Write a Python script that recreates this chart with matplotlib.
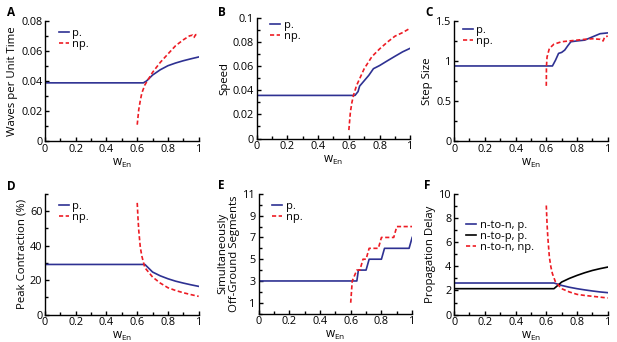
import numpy as np
import matplotlib.pyplot as plt
from matplotlib.ticker import MultipleLocator

plt.rcParams['font.family'] = ['Open Sans', 'DejaVu Sans']
plt.rcParams['font.size'] = 7.5

BLUE = '#2e3192'
RED = '#ed1c24'

# A - waves per unit time
a_w_p = [0, 0.64, 0.66, 0.70, 0.75, 0.80, 0.85, 0.90, 0.95, 1.0]
a_p = [0.0388, 0.0388, 0.0400, 0.0440, 0.0475, 0.0502, 0.0520, 0.0535, 0.0548, 0.0560]
a_w_np = [0.60, 0.61, 0.62, 0.63, 0.65, 0.70, 0.75, 0.80, 0.85, 0.90, 0.94, 0.96, 0.97, 0.98, 1.0]
a_np = [0.011, 0.021, 0.027, 0.032, 0.0375, 0.0458, 0.0524, 0.058, 0.0635, 0.0674, 0.0700, 0.0705, 0.0690, 0.0708, 0.0710]

# B - speed
b_w_p = [0, 0.64, 0.66, 0.67, 0.70, 0.73, 0.76, 0.80, 0.85, 0.90, 0.95, 1.0]
b_p = [0.0358, 0.0358, 0.0390, 0.0435, 0.0480, 0.0525, 0.0580, 0.0606, 0.0645, 0.0683, 0.0720, 0.0750]
b_w_np = [0.60, 0.61, 0.62, 0.63, 0.65, 0.70, 0.75, 0.80, 0.85, 0.90, 0.95, 1.0]
b_np = [0.007, 0.022, 0.030, 0.0358, 0.044, 0.058, 0.068, 0.0744, 0.080, 0.085, 0.088, 0.0917]

# C - step size
c_w_p = [0, 0.64, 0.66, 0.68, 0.70, 0.72, 0.74, 0.76, 0.80, 0.85, 0.90, 0.95, 1.0]
c_p = [0.938, 0.938, 1.01, 1.095, 1.107, 1.136, 1.19, 1.24, 1.25, 1.26, 1.30, 1.34, 1.35]
c_w_np = [0.600, 0.601, 0.605, 0.62, 0.65, 0.70, 0.80, 0.85, 0.90, 0.95, 0.97, 0.98, 1.0]
c_np = [0.69, 0.93, 1.05, 1.157, 1.21, 1.24, 1.26, 1.27, 1.277, 1.27, 1.25, 1.30, 1.31]

# D - peak contraction
d_w_p = [0, 0.65, 0.70, 0.75, 0.80, 0.85, 0.90, 0.95, 1.0]
d_p = [29.1, 29.1, 24.7, 22.5, 20.8, 19.4, 18.3, 17.3, 16.4]
d_w_np = [0.600, 0.605, 0.61, 0.62, 0.63, 0.64, 0.65, 0.70, 0.75, 0.80, 0.85, 0.90, 0.95, 1.0]
d_np = [64.8, 56.0, 48.8, 39.1, 34.0, 30.5, 27.2, 21.8, 18.3, 15.6, 14.0, 12.7, 11.6, 10.6]

# E - simultaneously off-ground segments
e_w_p = [0, 0.64, 0.65, 0.70, 0.72, 0.80, 0.82, 0.98, 1.0]
e_p = [3, 3, 4, 4, 5, 5, 6, 6, 7]
e_w_np = [0.60, 0.61, 0.64, 0.66, 0.68, 0.70, 0.72, 0.78, 0.80, 0.88, 0.90, 1.0]
e_np = [1, 3, 4, 4, 5, 5, 6, 6, 7, 7, 8, 8]

# F - propagation delay
f_w_p = [0, 0.65, 0.70, 0.75, 0.80, 0.85, 0.90, 0.95, 1.0]
f_nn_p = [2.62, 2.62, 2.42, 2.27, 2.15, 2.05, 1.96, 1.88, 1.82]
f_np_p = [2.15, 2.15, 2.70, 3.00, 3.25, 3.47, 3.66, 3.81, 3.94]
f_w_np = [0.600, 0.605, 0.61, 0.62, 0.63, 0.64, 0.66, 0.70, 0.75, 0.80, 0.85, 0.90, 0.95, 1.0]
f_nn_np = [9.04, 7.5, 6.4, 4.77, 3.95, 3.39, 2.70, 2.15, 1.88, 1.68, 1.59, 1.52, 1.45, 1.38]

fig = plt.figure(figsize=(6.17, 3.42), dpi=100)

W = 0.249
top_y, top_h = 0.587, 0.352
bot_y, bot_h = 0.080, 0.353
lefts = [0.073, 0.416, 0.736]


def style(ax, ylim, ymaj, ymin):
    ax.set_xlim(0, 1)
    ax.set_ylim(*ylim)
    ax.spines['top'].set_visible(False)
    ax.spines['right'].set_visible(False)
    ax.spines['left'].set_linewidth(1.0)
    ax.spines['bottom'].set_linewidth(1.0)
    ax.xaxis.set_major_locator(MultipleLocator(0.2))
    ax.xaxis.set_minor_locator(MultipleLocator(0.1))
    ax.yaxis.set_major_locator(MultipleLocator(ymaj))
    ax.yaxis.set_minor_locator(MultipleLocator(ymin))
    ax.tick_params(which='both', direction='in', width=1.0, labelsize=7.8, pad=2)
    ax.tick_params(which='major', length=3)
    ax.tick_params(which='minor', length=2)
    ax.set_xticks([0, 0.2, 0.4, 0.6, 0.8, 1.0])
    ax.set_xticklabels(['0', '0.2', '0.4', '0.6', '0.8', '1'])
    ax.set_xlabel('w$_{\\mathregular{En}}$', labelpad=1, fontsize=8.5)


def leg(ax, anchor):
    ax.legend(loc='upper left', bbox_to_anchor=anchor, frameon=False,
              handlelength=0.9, handletextpad=0.3, labelspacing=0.0,
              borderaxespad=0, fontsize=8)


lw = 1.2
YL = 8.2

# A
ax = fig.add_axes([lefts[0], top_y, W, top_h])
ax.plot(a_w_p, a_p, color=BLUE, lw=lw, label='p.')
ax.plot(a_w_np, a_np, color=RED, lw=lw, ls=(0, (2.5, 1.5)), label='np.')
style(ax, (0, 0.08), 0.02, 0.01)
ax.set_yticks([0, 0.02, 0.04, 0.06, 0.08])
ax.set_yticklabels(['0', '0.02', '0.04', '0.06', '0.08'])
ax.set_ylabel('Waves per Unit Time', labelpad=2, fontsize=YL)
leg(ax, (0.06, 0.98))

# B
ax = fig.add_axes([lefts[1], top_y + 0.008, W, top_h])
ax.plot(b_w_p, b_p, color=BLUE, lw=lw, label='p.')
ax.plot(b_w_np, b_np, color=RED, lw=lw, ls=(0, (2.5, 1.5)), label='np.')
style(ax, (0, 0.1), 0.02, 0.01)
ax.set_yticks([0, 0.02, 0.04, 0.06, 0.08, 0.1])
ax.set_yticklabels(['0', '0.02', '0.04', '0.06', '0.08', '0.1'])
ax.set_ylabel('Speed', labelpad=2, fontsize=YL)
leg(ax, (0.06, 1.02))

# C
ax = fig.add_axes([lefts[2], top_y, W, top_h])
ax.plot(c_w_p, c_p, color=BLUE, lw=lw, label='p.')
ax.plot(c_w_np, c_np, color=RED, lw=lw, ls=(0, (2.5, 1.5)), label='np.')
style(ax, (0, 1.5), 0.5, 0.25)
ax.set_yticks([0, 0.5, 1, 1.5])
ax.set_yticklabels(['0', '0.5', '1', '1.5'])
ax.set_ylabel('Step Size', labelpad=2, fontsize=YL)
leg(ax, (0.03, 1.0))

# D
ax = fig.add_axes([lefts[0], bot_y, W, bot_h])
ax.plot(d_w_p, d_p, color=BLUE, lw=lw, label='p.')
ax.plot(d_w_np, d_np, color=RED, lw=lw, ls=(0, (2.5, 1.5)), label='np.')
style(ax, (0, 70), 20, 10)
ax.set_yticks([0, 20, 40, 60])
ax.set_ylabel('Peak Contraction (%)', labelpad=2, fontsize=YL)
leg(ax, (0.06, 0.98))

# E
ax = fig.add_axes([lefts[1] + 0.003, bot_y + 0.003, W, bot_h - 0.003])
ax.plot(e_w_p, e_p, color=BLUE, lw=lw, label='p.')
ax.plot(e_w_np, e_np, color=RED, lw=lw, ls=(0, (2.5, 1.5)), label='np.')
style(ax, (0, 11), 2, 1)
ax.set_yticks([1, 3, 5, 7, 9, 11])
ax.set_ylabel('Simultaneously\nOff-Ground Segments', labelpad=2, linespacing=1.1, fontsize=YL)
leg(ax, (0.06, 0.98))

# F
ax = fig.add_axes([lefts[2], bot_y, W, bot_h])
ax.plot(f_w_p, f_nn_p, color=BLUE, lw=lw, label='n-to-n, p.')
ax.plot(f_w_p, f_np_p, color='black', lw=lw, label='n-to-p, p.')
ax.plot(f_w_np, f_nn_np, color=RED, lw=lw, ls=(0, (2.5, 1.5)), label='n-to-n, np.')
style(ax, (0, 10), 2, 1)
ax.set_yticks([0, 2, 4, 6, 8, 10])
ax.set_ylabel('Propagation Delay', labelpad=2, fontsize=YL)
leg(ax, (0.05, 0.82))

# panel letters
for lab, x, y in [('A', 0.011, 0.962), ('B', 0.353, 0.962), ('C', 0.690, 0.962),
                  ('D', 0.011, 0.455), ('E', 0.353, 0.458), ('F', 0.687, 0.458)]:
    fig.text(x, y, lab, fontsize=8.5, fontweight='bold', ha='left', va='center',
             family=['Open Sans', 'DejaVu Sans'])

fig.savefig('out.png', dpi=100)
